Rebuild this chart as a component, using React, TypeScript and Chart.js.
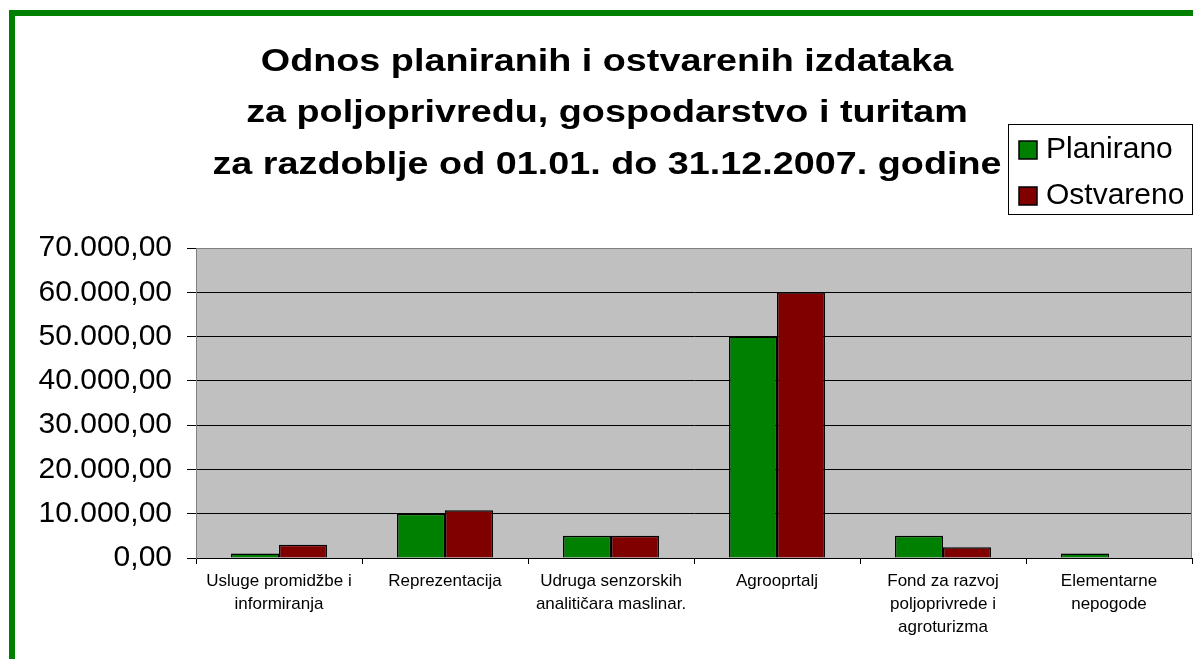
import React, { useEffect, useRef } from "react";
import { Chart, registerables } from "chart.js";

Chart.register(...registerables);

const titleLines = [
  "Odnos planiranih i ostvarenih izdataka",
  "za poljoprivredu, gospodarstvo i turitam",
  "za razdoblje od 01.01. do 31.12.2007. godine",
];

const categories: string[][] = [
  ["Usluge promidžbe i", "informiranja"],
  ["Reprezentacija"],
  ["Udruga senzorskih", "analitičara maslinar."],
  ["Agrooprtalj"],
  ["Fond za razvoj", "poljoprivrede i", "agroturizma"],
  ["Elementarne", "nepogode"],
];

const seriesNames = ["Planirano", "Ostvareno"];
const planirano = [1000, 10000, 5000, 50000, 5000, 1000];
const ostvareno = [3000, 10800, 5000, 60000, 2400, 0];
const seriesColors = ["#008000", "#800000"];

const yMin = 0;
const yMax = 70000;
const yStep = 10000;

const FONT = '"Liberation Sans", Arial, sans-serif';

function formatHr(v: number): string {
  const fixed = Math.abs(v).toFixed(2);
  const [intPart, dec] = fixed.split(".");
  const withDots = intPart.replace(/\B(?=(\d{3})+(?!\d))/g, ".");
  return (v < 0 ? "-" : "") + withDots + "," + dec;
}

const decorPlugin = {
  id: "decor",
  beforeDraw(chart: any) {
    const { ctx, chartArea, width, height } = chart;
    ctx.save();
    ctx.fillStyle = "#ffffff";
    ctx.fillRect(0, 0, width, height);
    ctx.fillStyle = "#C0C0C0";
    ctx.fillRect(chartArea.left, chartArea.top, chartArea.right - chartArea.left, chartArea.bottom - chartArea.top);
    ctx.restore();
  },
  beforeDatasetsDraw(chart: any) {
    const { ctx, chartArea } = chart;
    ctx.save();
    ctx.strokeStyle = "#808080";
    ctx.lineWidth = 1;
    ctx.beginPath();
    ctx.moveTo(chartArea.left + 0.5, chartArea.bottom);
    ctx.lineTo(chartArea.left + 0.5, chartArea.top + 0.5);
    ctx.lineTo(chartArea.right - 0.5, chartArea.top + 0.5);
    ctx.lineTo(chartArea.right - 0.5, chartArea.bottom);
    ctx.stroke();
    ctx.restore();
  },
  afterDraw(chart: any) {
    const { ctx } = chart;
    ctx.save();
    // green frame
    ctx.strokeStyle = "#008000";
    ctx.lineWidth = 6;
    ctx.strokeRect(12, 13, 1400, 900);
    // title
    ctx.fillStyle = "#000";
    ctx.font = `bold 32px ${FONT}`;
    ctx.textAlign = "center";
    ctx.textBaseline = "alphabetic";
    const baselines = [71, 122, 174];
    titleLines.forEach((t, i) => {
      ctx.save();
      ctx.translate(607, baselines[i]);
      ctx.scale(1.18, 1);
      ctx.fillText(t, 0, 0);
      ctx.restore();
    });
    // legend
    ctx.fillStyle = "#fff";
    ctx.fillRect(1008, 124, 190, 90);
    ctx.strokeStyle = "#000";
    ctx.lineWidth = 1;
    ctx.strokeRect(1008.5, 124.5, 184, 90);
    ctx.font = `30px ${FONT}`;
    ctx.textAlign = "left";
    chart.data.datasets.forEach((ds: any, i: number) => {
      const y = 141 + i * 46;
      ctx.fillStyle = ds.backgroundColor;
      ctx.fillRect(1019, y, 18, 18);
      ctx.strokeStyle = "#000";
      ctx.lineWidth = 1.5;
      ctx.strokeRect(1019, y, 18, 18);
      ctx.fillStyle = "#000";
      ctx.fillText(ds.label, 1046, 158 + i * 46);
    });
    ctx.restore();
  },
};

export default function App() {
  const ref = useRef<HTMLCanvasElement | null>(null);
  useEffect(() => {
    if (!ref.current) return;
    const chart = new Chart(ref.current, {
      type: "bar",
      data: {
        labels: categories,
        datasets: [
          {
            label: seriesNames[0],
            data: planirano,
            backgroundColor: seriesColors[0],
            borderColor: "#000",
            borderWidth: 1.5,
          },
          {
            label: seriesNames[1],
            data: ostvareno,
            backgroundColor: seriesColors[1],
            borderColor: "#000",
            borderWidth: 1.5,
          },
        ],
      },
      options: {
        animation: false,
        responsive: false,
        maintainAspectRatio: false,
        layout: { padding: { top: 248, right: 1, bottom: 1, left: 0 } },
        plugins: {
          legend: { display: false },
          title: { display: false },
          tooltip: { enabled: false },
        },
        datasets: { bar: { categoryPercentage: 0.578, barPercentage: 1 } },
        scales: {
          x: {
            grid: {
              offset: true,
              drawOnChartArea: false,
              drawTicks: true,
              tickLength: 6,
              color: "#000",
            },
            border: { display: true, color: "#000", width: 1 },
            ticks: {
              color: "#000",
              font: { family: FONT, size: 17, lineHeight: 1.36 },
              padding: 6,
              maxRotation: 0,
              autoSkip: false,
            },
            afterFit(scale: any) {
              scale.height = 100;
            },
          },
          y: {
            min: yMin,
            max: yMax,
            ticks: {
              stepSize: yStep,
              color: "#000",
              font: { family: FONT, size: 30 },
              padding: 15,
              callback: (v: any) => formatHr(Number(v)),
            },
            grid: {
              color: "#000",
              lineWidth: 1,
              tickLength: 9,
              drawTicks: true,
            },
            border: { display: true, color: "#808080", width: 1 },
            afterFit(scale: any) {
              scale.width = 196;
            },
          },
        },
      },
      plugins: [decorPlugin],
    });
    return () => chart.destroy();
  }, []);
  return (
    <div style={{ position: "absolute", left: 0, top: 0, width: 1193, height: 659 }}>
      <canvas ref={ref} width={1193} height={659} style={{ display: "block" }} />
    </div>
  );
}
